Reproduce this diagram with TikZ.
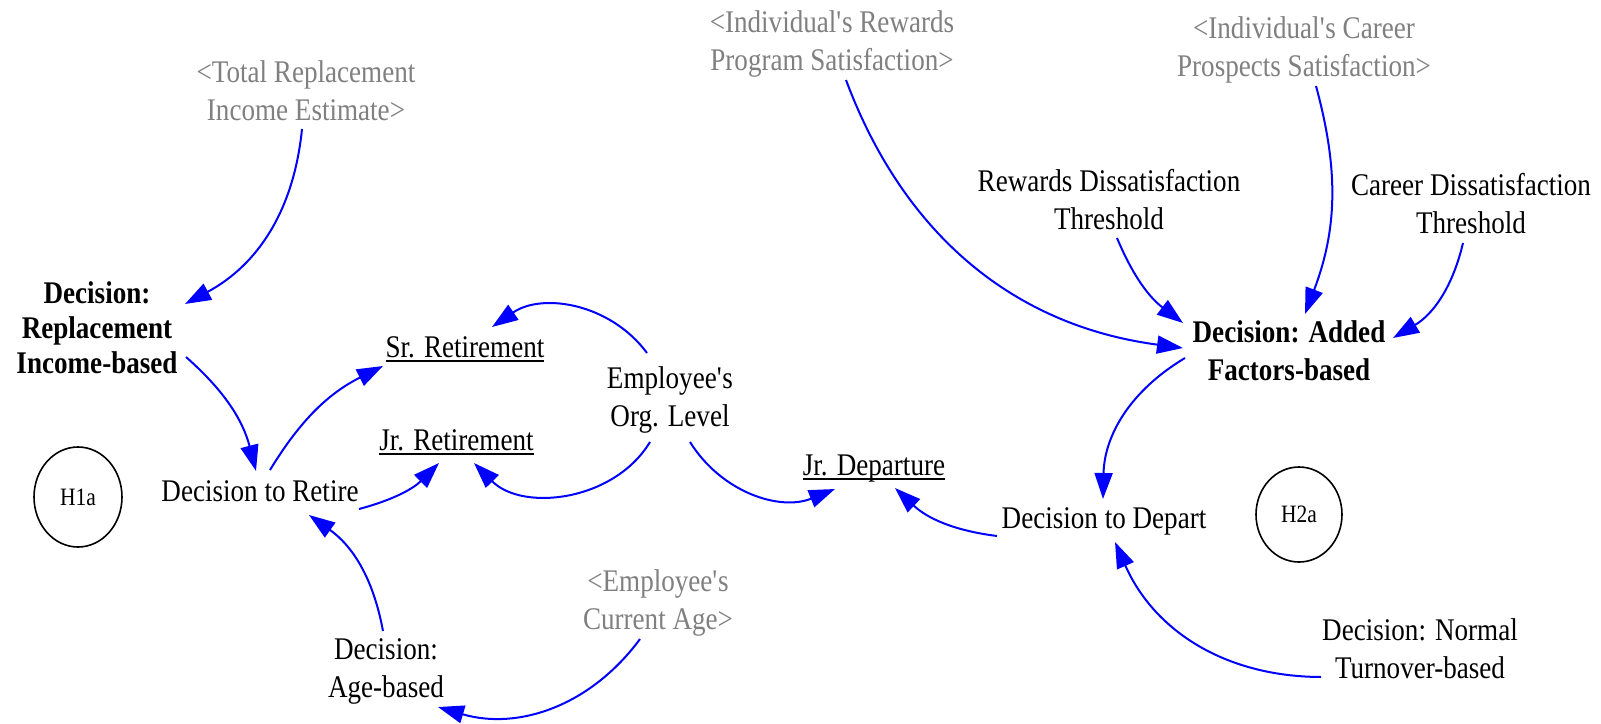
\documentclass[tikz,border=0pt]{standalone}
\usepackage{fontspec}
\setmainfont{Liberation Serif}[FakeStretch=0.86]
\usetikzlibrary{arrows.meta,shapes.geometric}
\definecolor{linkblue}{RGB}{0,0,255}
\definecolor{shadowgray}{RGB}{128,128,128}
% underlined stock names
\newcommand\stockname[1]{\setbox0=\hbox{#1}\rlap{\rule[-4.5pt]{\wd0}{2pt}}\box0}
\newcommand\apos{\textquotesingle}
\begin{document}
\begin{tikzpicture}[x=1pt,y=1pt,
  var/.style={inner sep=0pt, align=center, anchor=base,
    font=\fontsize{31.5}{37.5}\selectfont},
  shadow/.style={var, text=shadowgray},
  decision/.style={var, font=\fontsize{31.5}{37.5}\selectfont\bfseries},
  hyp/.style={draw, line width=1.6pt, ellipse, inner sep=0pt,
    font=\fontsize{25}{30}\selectfont},
  link/.style={draw=linkblue, line width=2pt,
    -{Triangle[length=26pt,width=18pt]}}]
\fill[white] (0,0) rectangle (1601,-723);
\useasboundingbox (0,0) rectangle (1601,-723);

% variables (multi-line nodes sit on the baseline of their last line)
\node[shadow]   (totrep) at (306,-120) {<Total Replacement\\Income Estimate>};
\node[decision, font=\fontsize{31.5}{35}\selectfont\bfseries]
                (drep)   at (97,-373)  {Decision:\\Replacement\\Income-based};
\node[var]      (srr)    at (465,-357) {\stockname{Sr. Retirement}};
\node[var]      (jrr)    at (456.5,-450) {\stockname{Jr. Retirement}};
\node[var]      (eol)    at (670,-426) {Employee\apos s\\Org. Level};
\node[var]      (dret)   at (260,-501) {Decision to Retire};
\node[var]      (jrd)    at (874,-475) {\stockname{Jr. Departure}};
\node[var]      (ddep)   at (1104,-528) {Decision to Depart};
\node[shadow]   (curage) at (658,-629) {<Employee\apos s\\Current Age>};
\node[var]      (dage)   at (386,-697) {Decision:\\Age-based};
\node[shadow]   (indrew) at (832,-70)  {<Individual\apos s Rewards\\Program Satisfaction>};
\node[shadow]   (indcar) at (1304,-76) {<Individual\apos s Career\\Prospects Satisfaction>};
\node[var]      (rewthr) at (1109,-229) {Rewards Dissatisfaction\\Threshold};
\node[var]      (carthr) at (1471,-233) {Career Dissatisfaction\\Threshold};
\node[decision] (dadd)   at (1289,-380) {Decision: Added\\Factors-based};
\node[var]      (dnorm)  at (1420,-678) {Decision: Normal\\Turnover-based};

% hypothesis markers
\node[hyp, minimum width=88pt, minimum height=100pt] (h1a) at (78,-497) {H1a};
\node[hyp, minimum width=86pt, minimum height=95pt] (h2a) at (1299,-514.5) {H2a};

% causal links
\draw[link] ([shift={(-4,-9)}]totrep.base) to[bend left=28] ([shift={(88,69)}]drep.base);
\draw[link] ([shift={(89,16)}]drep.base) to[bend left=17] ([shift={(-4,30)}]dret.base);
\draw[link] ([shift={(10,31)}]dret.base) to[bend left=16] ([shift={(-82,-9)}]srr.base);
\draw[link] ([shift={(99,-8)}]dret.base) to[bend right=15] ([shift={(-17.5,-13)}]jrr.base);
\draw[link] ([shift={(-23,73)}]eol.base) to[bend right=44] ([shift={(27,30)}]srr.base);
\draw[link] ([shift={(-20,-16)}]eol.base) to[bend left=52] ([shift={(17.5,-13)}]jrr.base);
\draw[link] ([shift={(20,-16)}]eol.base) to[bend right=40] ([shift={(-39,-14)}]jrd.base);
\draw[link] ([shift={(-107,-8)}]ddep.base) to[bend left=18] ([shift={(21,-13)}]jrd.base);
\draw[link] ([shift={(-104,22)}]dadd.base) to[bend right=29] ([shift={(-1,29)}]ddep.base);
\draw[link] ([shift={(-99,1)}]dnorm.base) to[bend left=33] ([shift={(11,-14)}]ddep.base);
\draw[link] ([shift={(-3,66)}]dage.base) to[bend right=22] ([shift={(49,-14)}]dret.base);
\draw[link] ([shift={(-18,-10)}]curage.base) to[bend left=35] ([shift={(52,-10)}]dage.base);
\draw[link] ([shift={(14,-10)}]indrew.base) to[bend right=31] ([shift={(-106,32)}]dadd.base);
\draw[link] ([shift={(8,-9)}]rewthr.base) to[bend right=15] ([shift={(-106,57)}]dadd.base);
\draw[link] ([shift={(12,-10)}]indcar.base) to[bend left=18] ([shift={(16,66)}]dadd.base);
\draw[link] ([shift={(-8,-10)}]carthr.base) to[bend left=23] ([shift={(104,42)}]dadd.base);
\end{tikzpicture}
\end{document}
